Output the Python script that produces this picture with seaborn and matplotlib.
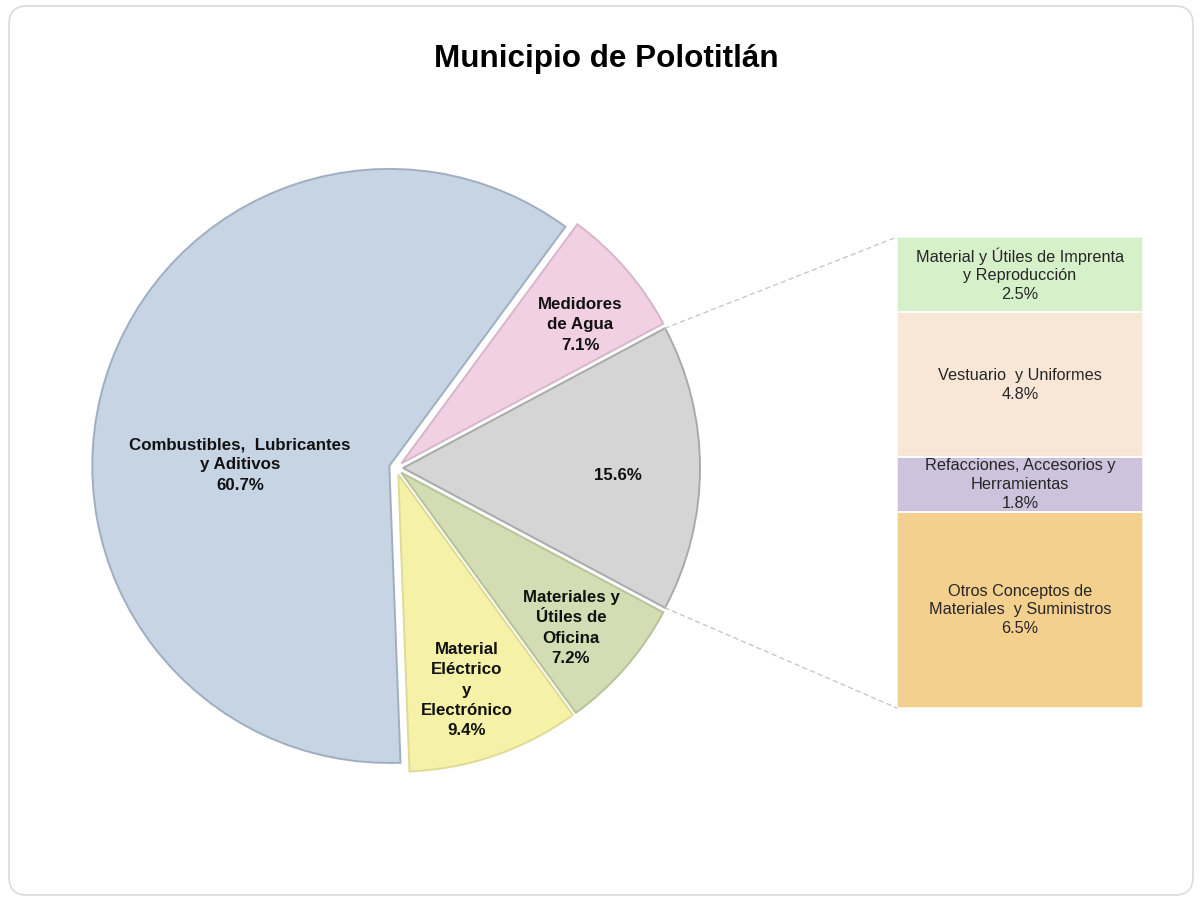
"""Bar-of-pie chart: Municipio de Polotitlán."""

import matplotlib

matplotlib.use("Agg")
import matplotlib.pyplot as plt
import seaborn as sns
from matplotlib.patches import ConnectionPatch, FancyBboxPatch
import numpy as np

W, H = 1202, 901

# pie slices, counter-clockwise starting with the grouped "other" slice
PIE_LABELS = [
    "15.6%",
    "Medidores\nde Agua",
    "Combustibles,  Lubricantes\ny Aditivos",
    "Material\nEléctrico\ny\nElectrónico",
    "Materiales y\nÚtiles de\nOficina",
]
PIE_VALUES = [15.6, 7.1, 60.7, 9.4, 7.2]
PIE_COLORS = ["#D5D5D5", "#F2D0E3", "#C7D4E4", "#F5F2A8", "#D3DCB3"]
PIE_EDGES = ["#A9A9A9", "#D8B6CA", "#9FAEC0", "#DEDA98", "#B6C398"]

# breakdown of the grouped slice, top to bottom
BAR_LABELS = [
    "Material y Útiles de Imprenta\ny Reproducción",
    "Vestuario  y Uniformes",
    "Refacciones, Accesorios y\nHerramientas",
    "Otros Conceptos de\nMateriales  y Suministros",
]
BAR_VALUES = [2.5, 4.8, 1.8, 6.5]
BAR_COLORS = ["#D6F1C9", "#F8E7D7", "#CDC3DC", "#F4D08F"]
BAR_EDGES = ["#B9DDB0", "#E9D6C4", "#B6A9CC", "#E2B86E"]

# label centres in pixels (x, y from top)
PIE_LABEL_POS = [(618, 476), (580, 325), (240, 465), (467, 690), (571, 628)]


def px(x, y):
    return x, H - y


def main() -> None:
    sns.set_theme(style="white")
    plt.rcParams["font.family"] = ["Liberation Sans", "DejaVu Sans"]

    fig = plt.figure(figsize=(W / 100, H / 100), dpi=100)
    fig.patch.set_facecolor("white")

    frame = FancyBboxPatch(
        (9, 6), W - 18, H - 12,
        boxstyle="round,pad=0,rounding_size=18",
        transform=None, facecolor="none", edgecolor="#DADADA", linewidth=1.2,
    )
    fig.patches.append(frame)

    ax = fig.add_axes([0, 0, 1, 1])
    palette = sns.color_palette(PIE_COLORS)
    start = -PIE_VALUES[0] / sum(PIE_VALUES) * 360 / 2
    wedges, _ = ax.pie(
        PIE_VALUES,
        colors=palette,
        startangle=start,
        counterclock=True,
        center=px(396, 468),
        radius=297,
        explode=[7] * len(PIE_VALUES),
        wedgeprops=dict(linewidth=1.4),
    )
    for wedge, edge in zip(wedges, PIE_EDGES):
        wedge.set_edgecolor(edge)
    ax.set_xlim(0, W)
    ax.set_ylim(0, H)
    ax.set_aspect("equal")
    ax.axis("off")

    for label, value, pos in zip(PIE_LABELS, PIE_VALUES, PIE_LABEL_POS):
        text = label if label.endswith("%") else f"{label}\n{value:.1f}%"
        ax.text(*px(*pos), text, ha="center", va="center", fontsize=12.2,
                fontweight="bold", color="#111111", linespacing=1.42)

    # stacked bar for the grouped slice
    bax = fig.add_axes([897 / W, 1 - 708 / H, 246 / W, 471 / H])
    total = sum(BAR_VALUES)
    bottoms = np.concatenate([[0], np.cumsum(BAR_VALUES)[:-1]])
    bax.bar([0] * len(BAR_VALUES), BAR_VALUES, bottom=bottoms, width=1.0,
            color=BAR_COLORS, edgecolor=BAR_EDGES, linewidth=1.5)
    bax.bar([0] * len(BAR_VALUES), BAR_VALUES, bottom=bottoms, width=1.0,
            color="none", edgecolor="white", linewidth=1.2)
    bax.set_xlim(-0.5, 0.5)
    bax.set_ylim(total, 0)
    bax.axis("off")
    for label, value, b in zip(BAR_LABELS, BAR_VALUES, bottoms):
        bax.text(0, b + value / 2, f"{label}\n{value:.1f}%", ha="center",
                 va="center", fontsize=11.7, color="#262626", linespacing=1.32)

    # dashed connectors from the grouped slice to the bar
    other = wedges[0]
    cx, cy = other.center
    for theta, ybar in ((other.theta2, 0), (other.theta1, total)):
        xa = cx + other.r * np.cos(np.radians(theta))
        ya = cy + other.r * np.sin(np.radians(theta))
        con = ConnectionPatch(xyA=(xa, ya), coordsA=ax.transData,
                              xyB=(-0.5, ybar), coordsB=bax.transData,
                              color="#C8C8C8", linestyle=(0, (3, 3)), linewidth=1)
        fig.add_artist(con)

    fig.text(606 / W, 1 - 59 / H, "Municipio de Polotitlán", ha="center",
             va="center", fontsize=22.6, fontweight="bold", color="black")

    fig.savefig("out.png", dpi=100, facecolor="white")
    plt.close(fig)


if __name__ == "__main__":
    main()
